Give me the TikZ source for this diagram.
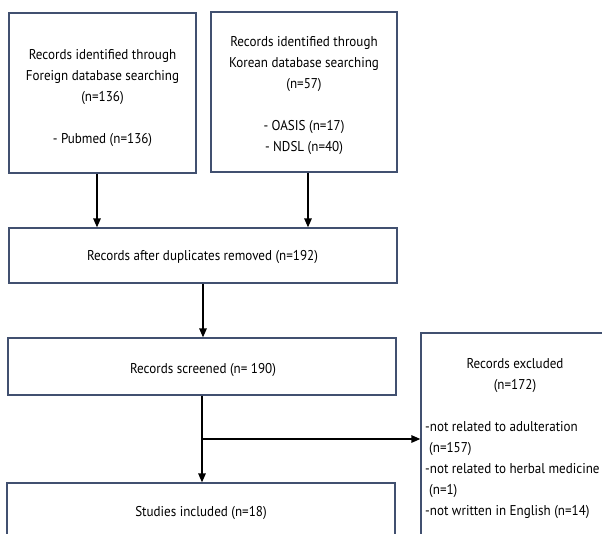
\documentclass[tikz,border=0pt]{standalone}
\usepackage{fontspec}
\setmainfont{PT Sans}[FakeStretch=0.92]
\usetikzlibrary{arrows.meta}
\definecolor{boxblue}{RGB}{65,80,112}
\begin{document}
\begin{tikzpicture}[x=1pt,y=-1pt,
  box/.style={draw=boxblue,line width=1.3pt,inner sep=0pt},
  txt/.style={font=\fontsize{14.2}{21}\selectfont,inner sep=0pt,align=center},
  arr/.style={-{Triangle[length=9pt,width=7.5pt]},line width=1.4pt,black}]
\useasboundingbox[fill=white] (0,0) rectangle (602,533);
\begin{scope}
\clip (0,0) rectangle (602,533);
\node[box,minimum width=187pt,minimum height=160pt] (A) at (102.5,93) {};
\node[txt] (At) at (102.5,98)
  {Records identified through\\Foreign database searching\\(n=136)\\[21pt]- Pubmed (n=136)};
\node[box,minimum width=186pt,minimum height=160pt] (B) at (304,92) {};
\node[txt] (Bt) at (304,95.5)
  {Records identified through\\Korean database searching\\(n=57)\\[21pt]- OASIS (n=17)\\- NDSL (n=40)};
\node[box,minimum width=388pt,minimum height=55pt] (C) at (203,255.5) {};
\node[txt] (Ct) at (202.5,257) {Records after duplicates removed (n=192)};
\node[box,minimum width=388pt,minimum height=57pt] (D) at (202,366.5) {};
\node[txt] (Dt) at (203,370) {Records screened (n= 190)};
\node[box,minimum width=388pt,minimum height=58pt] (E) at (201,512) {};
\node[txt] (Et) at (201,513) {Studies included (n=18)};
\node[box,minimum width=188pt,minimum height=212pt] (F) at (515,439) {};
\node[txt] (Ft) at (515,375.5) {Records excluded\\(n=172)};
\node[txt,align=left,anchor=north west] (Fl) at (425,421)
  {-not related to adulteration\\\hspace*{4pt}(n=157)\\-not related to herbal medicine\\\hspace*{4pt}(n=1)\\-not written in English (n=14)};
\end{scope}
\draw[arr] ([xshift=-5.5pt]A.south) -- ([xshift=-5.5pt]A.south |- C.north);
\draw[arr] ([xshift=4pt]B.south) -- ([xshift=4pt]B.south |- C.north);
\draw[arr] (C.south) -- (C.south |- D.north);
\draw[arr] (D.south) -- (D.south |- E.north);
\coordinate (br) at (D.south |- F.west);
\draw[arr] (br) -- (F.west);
\end{tikzpicture}
\end{document}
